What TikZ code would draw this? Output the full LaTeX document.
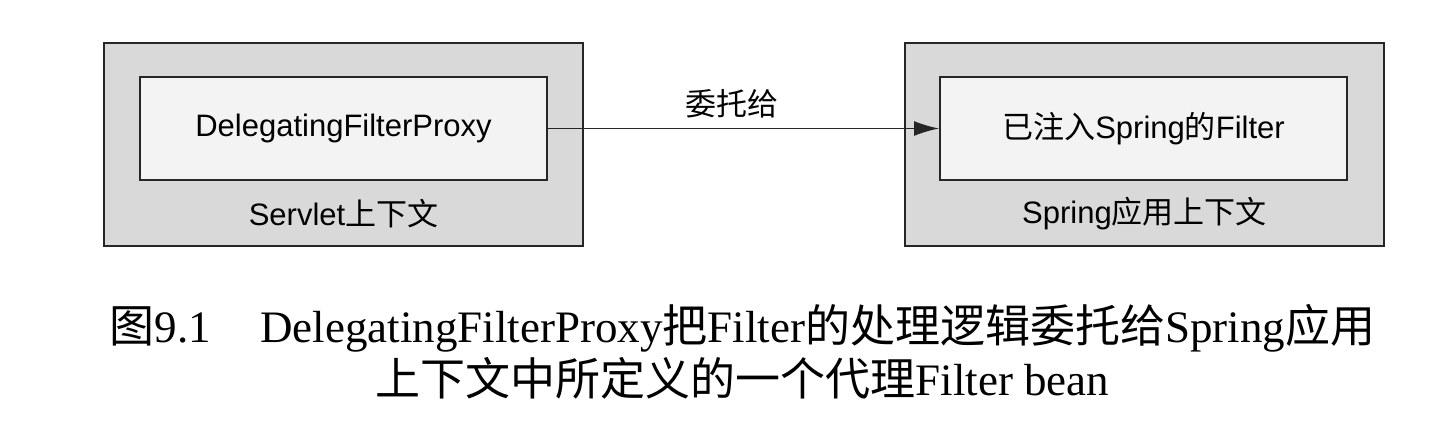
\documentclass[tikz,border=0pt]{standalone}
\usepackage{fontspec}
\setmainfont{Liberation Serif}
\setsansfont{Liberation Sans}
\newfontfamily\cjk{Noto Sans CJK SC}
\usetikzlibrary{arrows.meta}
\definecolor{ctxgray}{HTML}{D9D9D9}
\definecolor{beanfill}{HTML}{F3F3F3}
\definecolor{edgeline}{HTML}{262626}
\newcommand{\zh}[1]{{\cjk #1}}
\tikzset{
  context/.style={fill=ctxgray, draw=edgeline, line width=1pt, inner sep=0pt,
    minimum width=239.5pt, minimum height=101.5pt},
  bean/.style={fill=beanfill, draw=edgeline, line width=1pt, inner sep=0pt,
    minimum width=203.5pt, minimum height=51.5pt, font=\sffamily\fontsize{15.5}{18}\selectfont},
  ctxlbl/.style={font=\sffamily\fontsize{15.5}{18}\selectfont, inner sep=1pt},
  delegate/.style={draw=edgeline, line width=0.75pt, -{Latex[length=12.5pt, width=7.5pt]}},
  caption/.style={font=\fontsize{22.5}{26.5}\selectfont, align=center, inner sep=0pt},
}

\begin{document}
\begin{tikzpicture}[x=0.5pt, y=-0.5pt]
  \useasboundingbox (0,0) rectangle (1454,444);

  % contexts
  \node[context] (servletctx) at (343.5,144.5) {};
  \node[context] (springctx) at (1144.5,144.5) {};

  \node[bean] (proxy) at (343.5,128.5) {DelegatingFilterProxy};
  \node[bean] (target) at (1143.5,128.5) {\zh{已注入}Spring\zh{的}Filter};

  \node[ctxlbl] (servletlbl) at (343.5,214) {Servlet\zh{上下文}};
  \node[ctxlbl] (springlbl) at (1144.5,214) {Spring\zh{应用上下文}};

  \draw[delegate] (proxy.east) -- node[pos=0.47, above, ctxlbl, inner sep=5pt] (delegatelbl) {\zh{委托给}} (target.west);

  % caption
  \node[caption] (fig) at (742.5,351.5)
    {\zh{图}9.1\hspace{1.1em}DelegatingFilterProxy\zh{把}Filter\zh{的处理逻辑委托给}Spring\zh{应用}\\
     \zh{上下文中所定义的一个代理}Filter bean};

\end{tikzpicture}
\end{document}
